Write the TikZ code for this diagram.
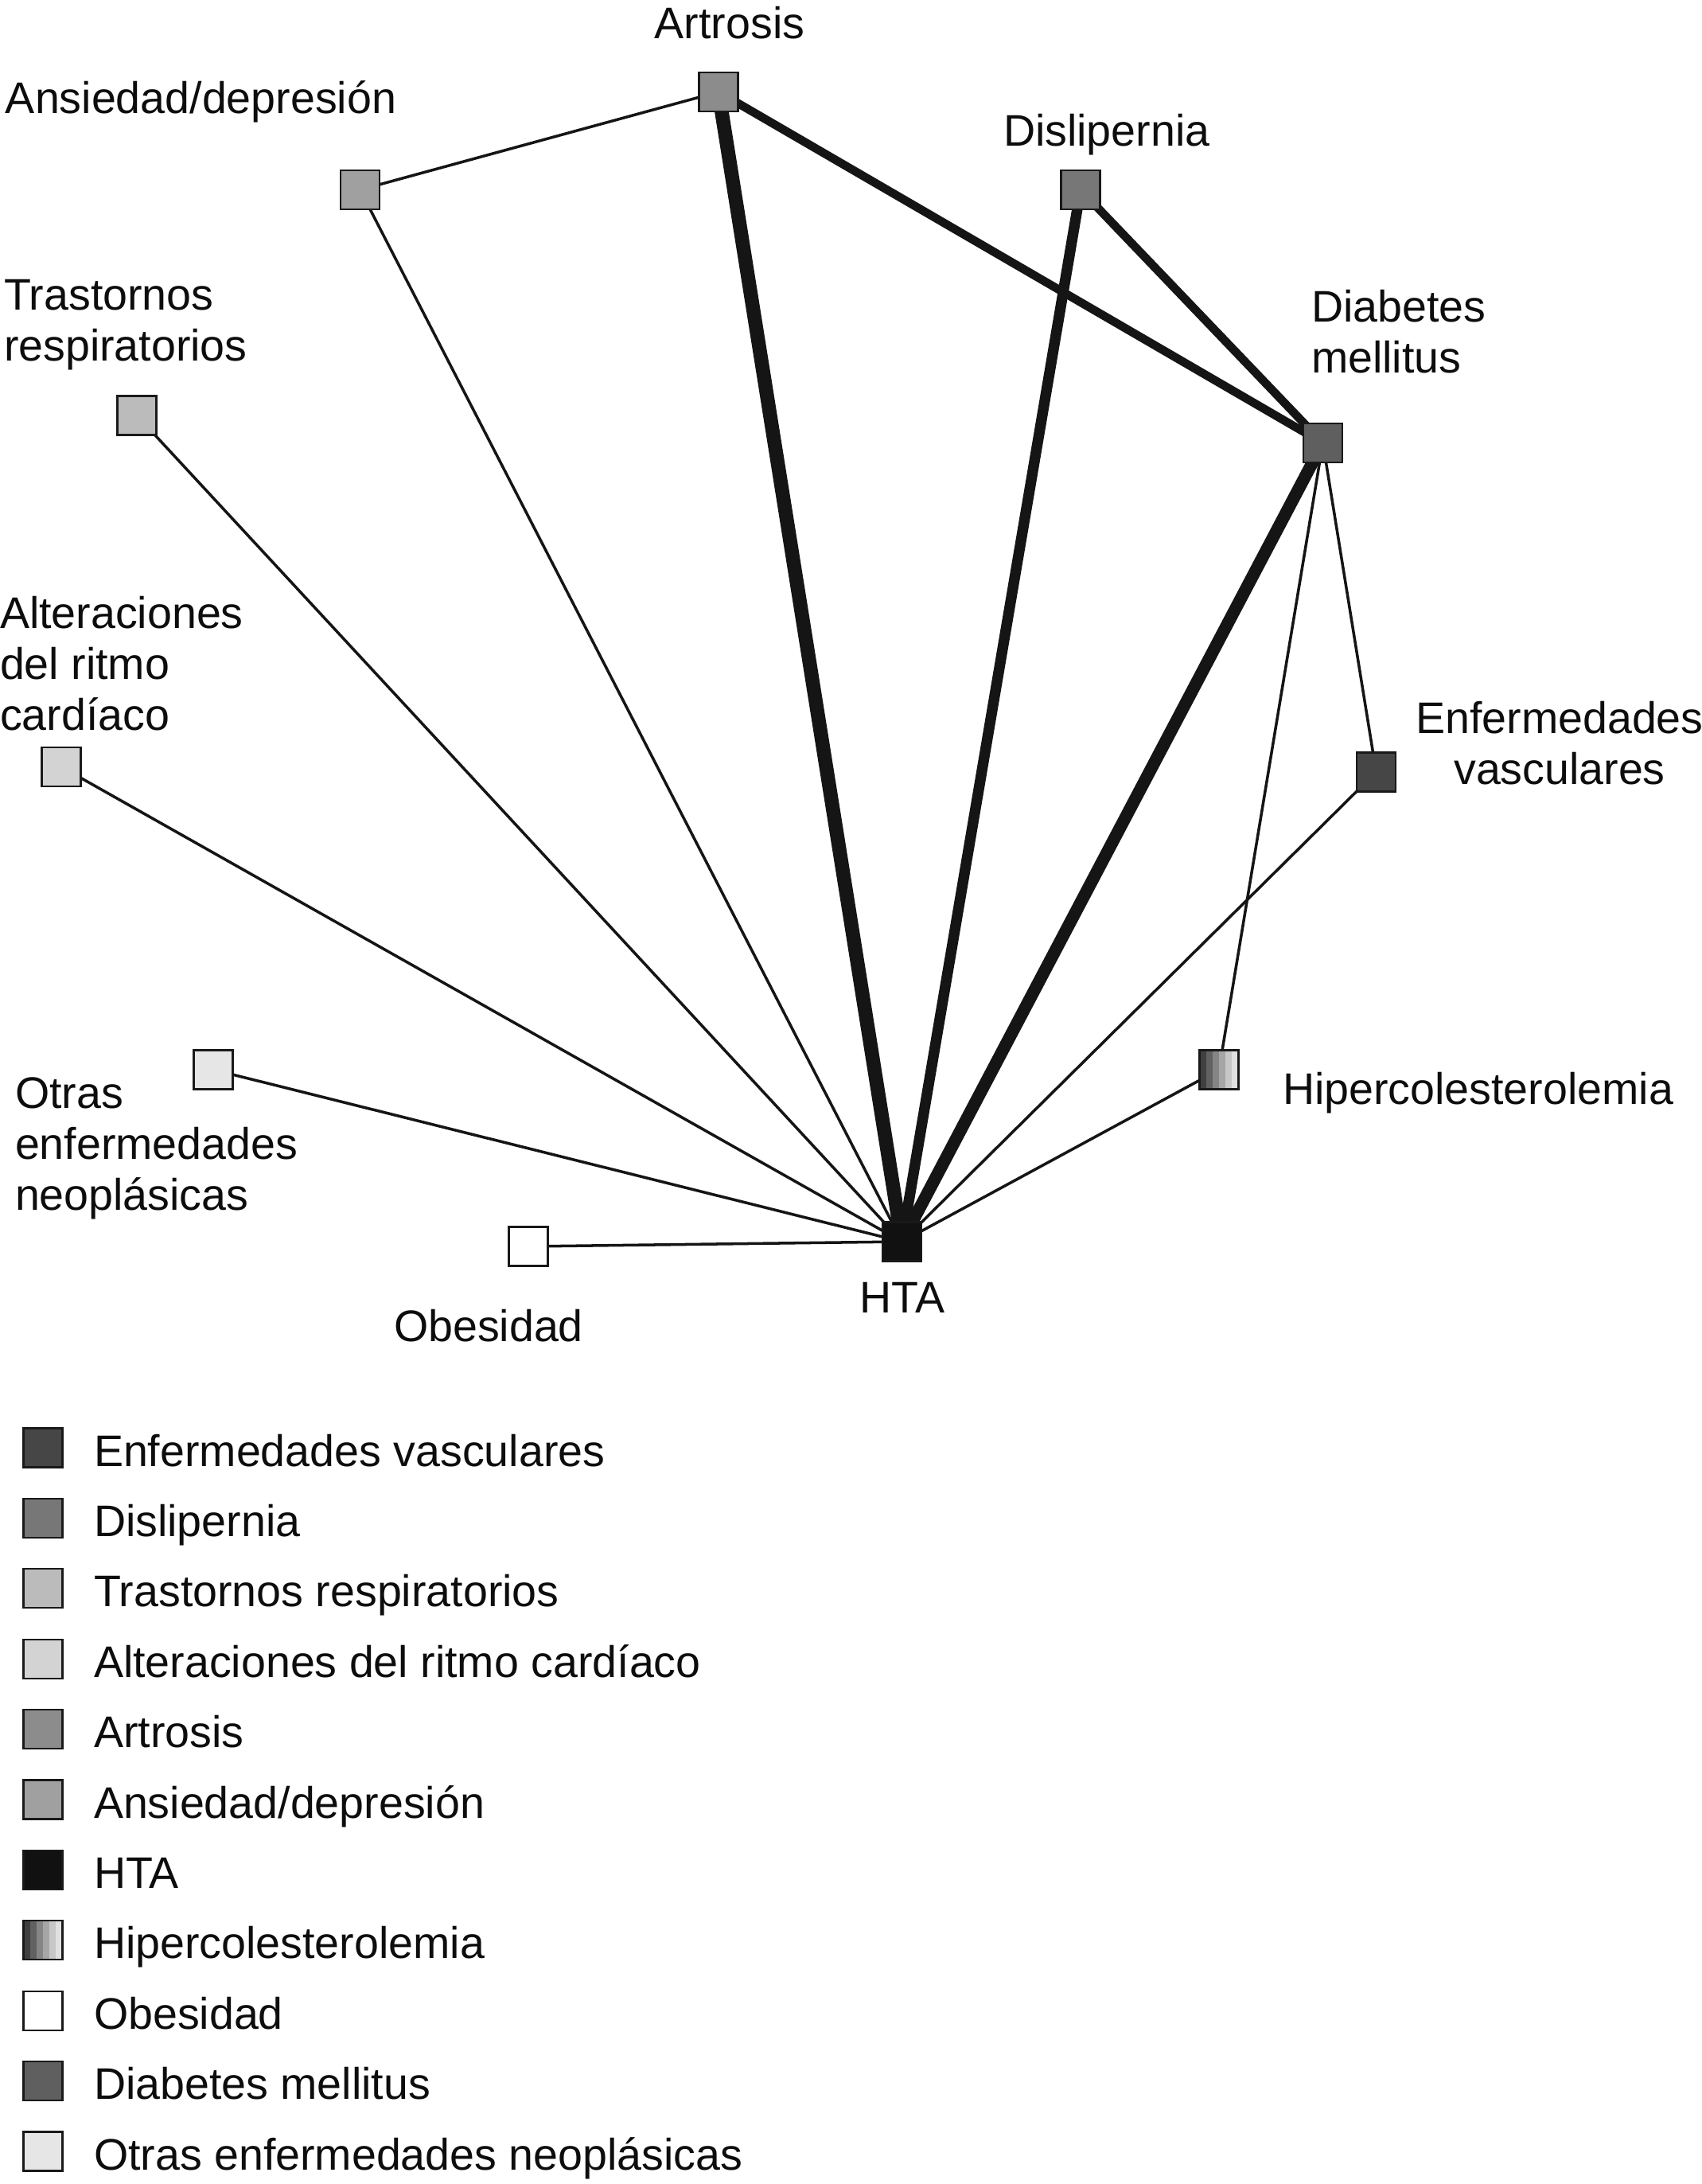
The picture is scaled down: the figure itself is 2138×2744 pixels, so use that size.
\documentclass[tikz,border=0pt]{standalone}
\usepackage{fontspec}
\setmainfont{Liberation Sans}
\usetikzlibrary{backgrounds}
\definecolor{cEV}{HTML}{464646}
\definecolor{cDL}{HTML}{777777}
\definecolor{cTR}{HTML}{BBBBBB}
\definecolor{cAR}{HTML}{D3D3D3}
\definecolor{cAT}{HTML}{8C8C8C}
\definecolor{cAD}{HTML}{A0A0A0}
\definecolor{cHT}{HTML}{111111}
\definecolor{cOB}{HTML}{FFFFFF}
\definecolor{cDM}{HTML}{5F5F5F}
\definecolor{cON}{HTML}{E6E6E6}
\definecolor{cLine}{HTML}{151515}
\begin{document}
\begin{tikzpicture}[x=0.01cm,y=-0.01cm,
  sq/.style={rectangle, draw=black!90, line width=0.6pt, minimum size=0.49cm, inner sep=0pt, outer sep=0pt},
  hcsq/.style={sq, path picture={
      \foreach \hk/\hv in {0/75,1/62,2/48,3/35,4/22,5/12}{
        \fill[black!\hv] ([xshift=\hk*0.08167cm]path picture bounding box.south west) rectangle ([xshift=\hk*0.08167cm+0.0817cm]path picture bounding box.north west);
      }}},
  lbl/.style={inner sep=0pt, outer sep=0pt, font=\fontsize{15.8}{18.2}\selectfont, text=black!95},
  edgeA/.style={draw=cLine, line width=1pt},
  edgeB/.style={draw=cLine, line width=3pt},
  edgeC/.style={draw=cLine, line width=3.8pt},
  edgeD/.style={draw=cLine, line width=4.4pt},
  edgeE/.style={draw=cLine, line width=5pt}
]
\useasboundingbox (0,0) rectangle (2138,2744);
% network nodes
\node[sq, fill=cAT] (art) at (903,115.5) {};
\node[sq, fill=cAD] (ans) at (452.5,238.5) {};
\node[sq, fill=cDL] (dis) at (1358,238.5) {};
\node[sq, fill=cDM] (dia) at (1662.5,556.5) {};
\node[sq, fill=cTR] (tra) at (172,522) {};
\node[sq, fill=cAR] (alt) at (77,963.5) {};
\node[sq, fill=cEV] (env) at (1729.5,970) {};
\node[hcsq] (hip) at (1532,1344) {};
\node[sq, fill=cON] (otr) at (268,1344) {};
\node[sq, fill=cOB] (obe) at (664,1566) {};
\node[sq, fill=cHT] (hta) at (1133.5,1560) {};
% labels (multi-line: base = last line)
\node[lbl, anchor=base] (lart) at (917,48) {Artrosis};
\node[lbl, anchor=base west] (lans) at (7,142) {Ansiedad/depresión};
\node[lbl, anchor=base west] (ldis) at (1261,183) {Dislipernia};
\node[lbl, anchor=base west, align=left] (ldia) at (1648,468) {Diabetes\\mellitus};
\node[lbl, anchor=base west, align=left] (ltra) at (5,453) {Trastornos\\respiratorios};
\node[lbl, anchor=base west, align=left] (lalt) at (0,917) {Alteraciones\\del ritmo\\cardíaco};
\node[lbl, anchor=base, align=center] (lenv) at (1960,985) {Enfermedades\\vasculares};
\node[lbl, anchor=base west] (lhip) at (1612,1387) {Hipercolesterolemia};
\node[lbl, anchor=base west, align=left] (lotr) at (19,1520) {Otras\\enfermedades\\neoplásicas};
\node[lbl, anchor=base] (lobe) at (614,1685) {Obesidad};
\node[lbl, anchor=base] (lhta) at (1134,1649) {HTA};
% edges
\begin{pgfonlayer}{background}
\draw[edgeA] (ans.center) -- (art.center);
\draw[edgeE] (art.center) -- (hta.center);
\draw[edgeB] (art.center) -- (dia.center);
\draw[edgeC] (dis.center) -- (hta.center);
\draw[edgeB] (dis.center) -- (dia.center);
\draw[edgeD] (dia.center) -- (hta.center);
\draw[edgeA] (dia.center) -- (env.center);
\draw[edgeA] (dia.center) -- (hip.center);
\draw[edgeA] (ans.center) -- (hta.center);
\draw[edgeA] (tra.center) -- (hta.center);
\draw[edgeA] (alt.center) -- (hta.center);
\draw[edgeA] (otr.center) -- (hta.center);
\draw[edgeA] (obe.center) -- (hta.center);
\draw[edgeA] (env.center) -- (hta.center);
\draw[edgeA] (hip.center) -- (hta.center);
\end{pgfonlayer}
% legend
\foreach \i/\nm/\fc/\tx in {
  0/k0/cEV/{Enfermedades vasculares},
  1/k1/cDL/{Dislipernia},
  2/k2/cTR/{Trastornos respiratorios},
  3/k3/cAR/{Alteraciones del ritmo cardíaco},
  4/k4/cAT/{Artrosis},
  5/k5/cAD/{Ansiedad/depresión},
  6/k6/cHT/{HTA},
  8/k8/cOB/{Obesidad},
  9/k9/cDM/{Diabetes mellitus},
  10/k10/cON/{Otras enfermedades neoplásicas}}{
  \node[sq, fill=\fc] (\nm) at (54,1819+88.4*\i) {};
  \node[lbl, anchor=base west] (t\nm) at (118,1842+88.4*\i) {\tx};
}
\node[hcsq] (k7) at (54,1819+88.4*7) {};
\node[lbl, anchor=base west] (tk7) at (118,1842+88.4*7) {Hipercolesterolemia};
\end{tikzpicture}
\end{document}
